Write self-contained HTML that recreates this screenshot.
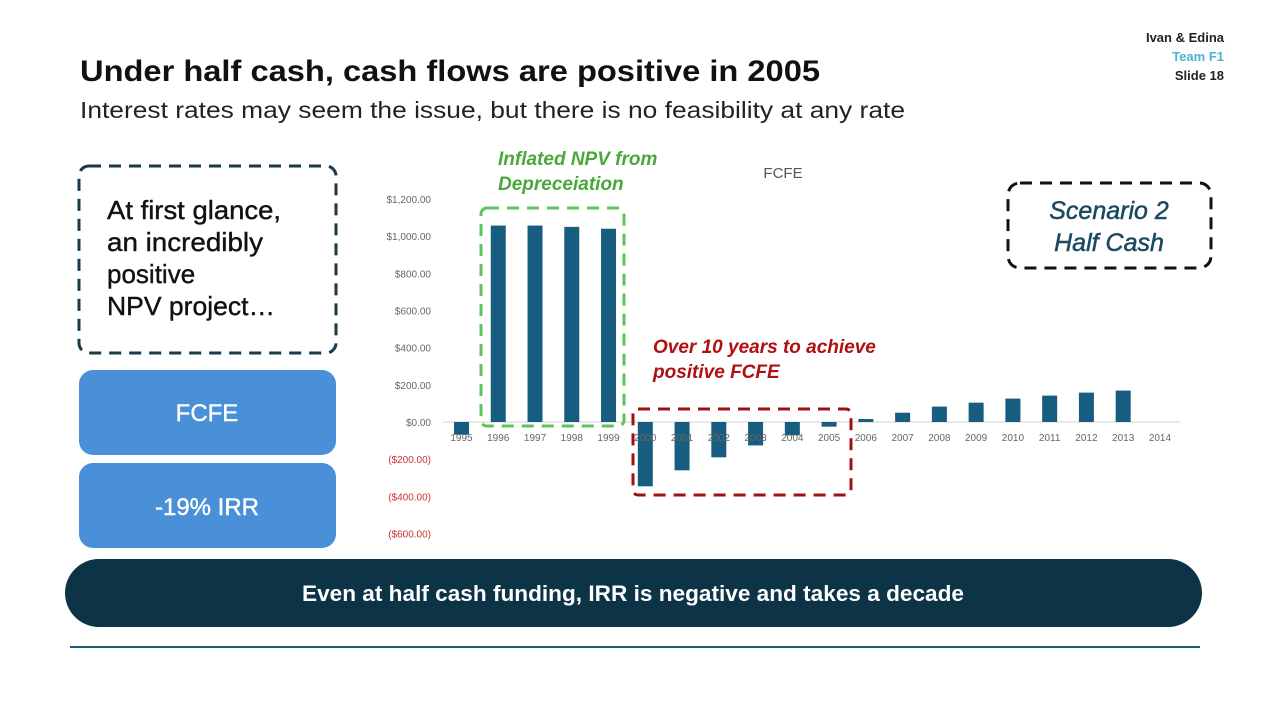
<!DOCTYPE html>
<html><head><meta charset="utf-8"><style>
html,body{margin:0;padding:0;background:#fff;}
svg{display:block;font-family:"Liberation Sans",sans-serif;}
</style></head><body>
<svg width="1280" height="720" viewBox="0 0 1280 720">
<g font-size="13" text-anchor="end" font-weight="bold">
<text x="1224" y="42" fill="#222">Ivan &amp; Edina</text>
<text x="1224" y="61" fill="#4bb3d6">Team F1</text>
<text x="1224" y="80" fill="#222">Slide 18</text>
</g>
<text x="80" y="81" font-size="30" font-weight="bold" fill="#111" textLength="740" lengthAdjust="spacingAndGlyphs">Under half cash, cash flows are positive in 2005</text>
<text x="80" y="118" font-size="23" fill="#222" textLength="825" lengthAdjust="spacingAndGlyphs">Interest rates may seem the issue, but there is no feasibility at any rate</text>

<rect x="79" y="166" width="257" height="187" rx="10" fill="none" stroke="#1a3a4a" stroke-width="3" stroke-dasharray="12,8"/>
<g font-size="26" fill="#111" stroke="#111" stroke-width="0.4">
<text x="107" y="219" textLength="174" lengthAdjust="spacingAndGlyphs">At first glance,</text>
<text x="107" y="251" textLength="156" lengthAdjust="spacingAndGlyphs">an incredibly</text>
<text x="107" y="283">positive</text>
<text x="107" y="315" textLength="168" lengthAdjust="spacingAndGlyphs">NPV project…</text>
</g>
<rect x="79" y="370" width="257" height="85" rx="14" fill="#4a90d9"/>
<text x="207" y="421" font-size="24" fill="#fff" stroke="#fff" stroke-width="0.4" text-anchor="middle">FCFE</text>
<rect x="79" y="463" width="257" height="85" rx="14" fill="#4a90d9"/>
<text x="207" y="515" font-size="24" fill="#fff" stroke="#fff" stroke-width="0.4" text-anchor="middle">-19% IRR</text>

<rect x="65" y="559" width="1137" height="68" rx="34" fill="#0d3347"/>
<text x="633" y="601" font-size="22" font-weight="bold" fill="#fff" text-anchor="middle" textLength="662" lengthAdjust="spacingAndGlyphs">Even at half cash funding, IRR is negative and takes a decade</text>
<line x1="70" y1="647" x2="1200" y2="647" stroke="#1a5a7a" stroke-width="2"/>

<text x="783" y="178" font-size="15" fill="#555" text-anchor="middle">FCFE</text>
<g id="chart"></g>

<rect x="481" y="208" width="143" height="218" rx="6" fill="none" stroke="#5cc45c" stroke-width="3" stroke-dasharray="12,8"/>
<g font-size="19" font-weight="bold" font-style="italic" fill="#4aa83a">
<text x="498" y="165">Inflated NPV from</text>
<text x="498" y="190">Depreceiation</text>
</g>
<rect x="633" y="409" width="218" height="86" rx="5" fill="none" stroke="#a01010" stroke-width="3" stroke-dasharray="12,8"/>
<g font-size="19" font-weight="bold" font-style="italic" fill="#b01010">
<text x="653" y="353">Over 10 years to achieve</text>
<text x="653" y="378">positive FCFE</text>
</g>
<rect x="1008" y="183" width="203" height="85" rx="12" fill="none" stroke="#111" stroke-width="3" stroke-dasharray="12,8"/>
<g font-size="25" font-style="italic" fill="#1a4a60" stroke="#1a4a60" stroke-width="0.5" text-anchor="middle">
<text x="1109" y="219">Scenario 2</text>
<text x="1109" y="251">Half Cash</text>
</g>
</svg>
<script>
const years = ["1995","1996","1997","1998","1999","2000","2001","2002","2003","2004","2005","2006","2007","2008","2009","2010","2011","2012","2013","2014"];
const fcfe = [-68,1057,1057,1050,1040,-346,-260,-190,-126,-72,-25,16,50,83,104,126,142,158,169,0];
const ticks = [1200,1000,800,600,400,200,0,-200,-400,-600];
const NS = "http://www.w3.org/2000/svg";
const g = document.getElementById("chart");
const y = v => 422 - v * (223/1200);
const x = i => 461.5 + i * 36.76;
function mk(tag, attrs){const e=document.createElementNS(NS,tag);for(const k in attrs)e.setAttribute(k,attrs[k]);g.appendChild(e);return e;}
ticks.forEach(t=>{
  const e=mk("text",{x:431,y:y(t)+4,"font-size":10,"text-anchor":"end",fill:t<0?"#d03030":"#666"});
  
  
  const a=Math.abs(t).toLocaleString('en-US',{minimumFractionDigits:2});
  e.textContent=t<0?"($"+a+")":"$"+a;
});
const ax=mk("line",{x1:443,x2:1180,y1:y(0),y2:y(0),stroke:"#d0d0d0","stroke-width":1});


fcfe.forEach((v,i)=>{
  const r=mk("rect",{x:x(i)-7.5,width:15,y:Math.min(y(v),y(0)),height:Math.abs(y(v)-y(0)),fill:"#165d80"});
  
  
});
years.forEach((yr,i)=>{
  const e=mk("text",{x:x(i),y:441,"font-size":10,"text-anchor":"middle",fill:"#666"});
  
  
  e.textContent=yr;
});
</script>
</body></html>
